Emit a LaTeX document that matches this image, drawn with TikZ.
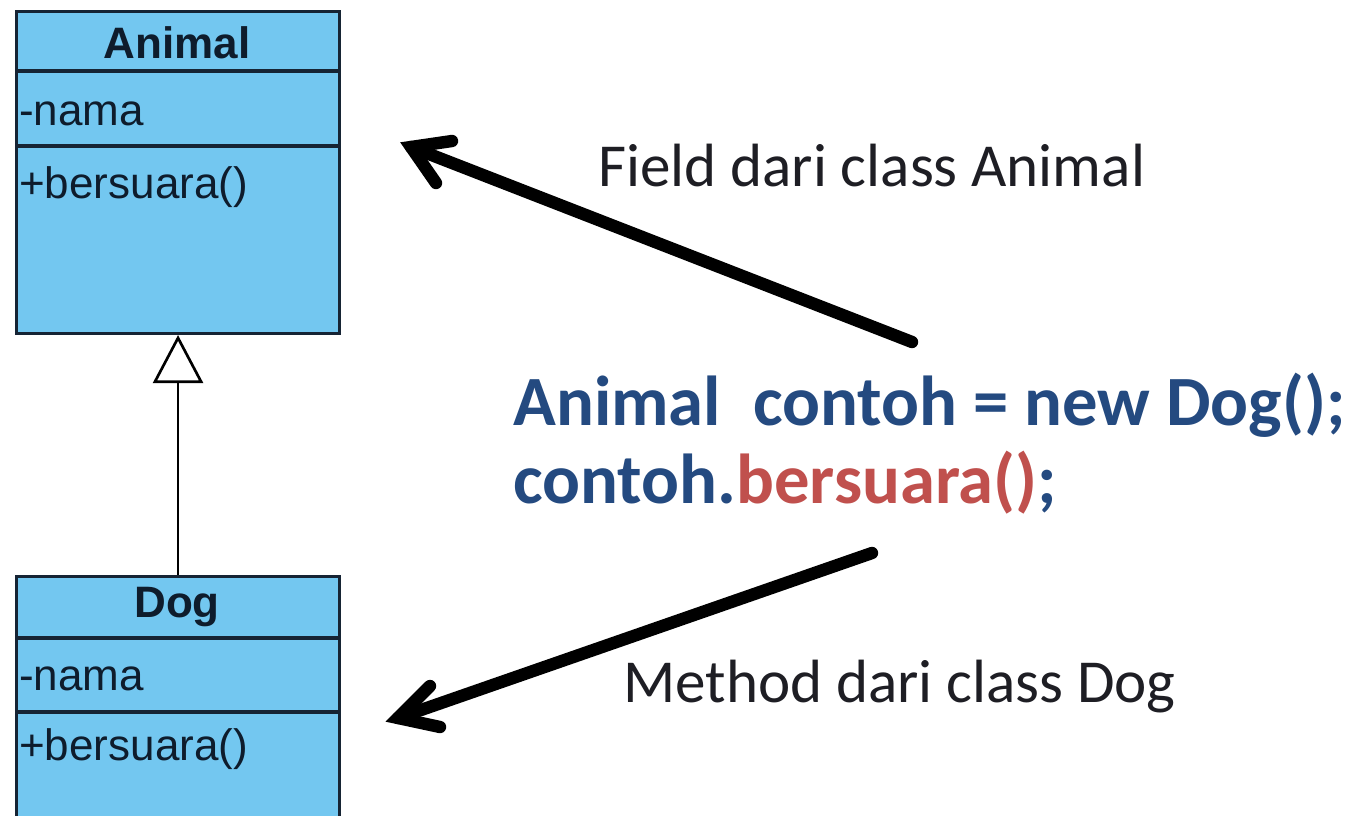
\documentclass[tikz,border=0pt]{standalone}
\usepackage{fontspec}
\setmainfont{Carlito}
\newfontfamily\umlfont{Liberation Sans}
\usetikzlibrary{arrows.meta}
\definecolor{boxfill}{RGB}{115,199,240}
\definecolor{boxline}{RGB}{22,36,52}
\definecolor{umltextc}{RGB}{14,28,44}
\definecolor{codeblue}{RGB}{36,74,128}
\definecolor{codered}{RGB}{192,80,77}
\definecolor{labeltext}{RGB}{30,30,36}
\begin{document}
\begin{tikzpicture}[x=0.75pt,y=-0.75pt,
  classbox/.style={draw=boxline, fill=boxfill, line width=2.3pt, inner sep=0pt},
  divider/.style={draw=boxline, line width=2.3pt},
  umltitle/.style={inner sep=0pt, text=umltextc, font=\umlfont\fontsize{33}{38}\selectfont\bfseries},
  umltext/.style={inner sep=0pt, anchor=base west, text=umltextc, font=\umlfont\fontsize{33}{38}\selectfont},
  labelstyle/.style={inner sep=0pt, anchor=base west, text=labeltext, font=\fontsize{45.8}{52}\selectfont},
  codestyle/.style={inner sep=0pt, anchor=base west, text=codeblue, font=\fontsize{53}{60}\selectfont\bfseries},
  bigline/.style={draw=black, line width=9.3pt, line cap=round, line join=miter},
  inherit/.style={draw=black, line width=2pt, -{Triangle[open, fill=white, length=36pt, width=37.5pt]}}
]
\useasboundingbox (0,0) rectangle (1350,815);
\fill[white] (0,0) rectangle (1350,815);

% Animal class
\node[classbox, minimum width=242.25pt, minimum height=241.5pt, anchor=north west] (animal) at (15,10) {};
\draw[divider] (15,71) -- (338,71);
\draw[divider] (15,146) -- (338,146);
\node[umltitle] (animalname) at (177,43) {Animal};
\node[umltext] (animalfield) at (19,125) {-nama};
\node[umltext] (animalmethod) at (19,198) {+bersuara()};

% Dog class
\node[classbox, minimum width=242.25pt, minimum height=198.75pt, anchor=north west] (dog) at (15,575) {};
\draw[divider] (15,638) -- (338,638);
\draw[divider] (15,712) -- (338,712);
\node[umltitle] (dogname) at (177,607) {Dog};
\node[umltext] (dogfield) at (19,690) {-nama};
\node[umltext] (dogmethod) at (19,760) {+bersuara()};

% generalization
\draw[inherit] (dog.north) -- (animal.south);

% labels
\node[labelstyle] (fieldlabel) at (598,186) {Field dari class Animal};
\node[labelstyle] (methodlabel) at (623,702) {Method dari class Dog};
\node[codestyle] (code1) at (513,425) {Animal\ \ contoh = new Dog();};
\node[codestyle] (code2) at (513,503) {contoh.\textcolor{codered}{bersuara()};};

% big arrows
\coordinate (fieldtail) at (912,342);
\coordinate (fieldtip) at (411,147);
\draw[bigline] (fieldtail) -- (fieldtip);
\draw[bigline] (452,141) -- (fieldtip) -- (436,183);

\coordinate (methodtail) at (872,553);
\coordinate (methodtip) at (398,718);
\draw[bigline] (methodtail) -- (methodtip);
\draw[bigline] (430,686) -- (methodtip) -- (440,727);
\end{tikzpicture}
\end{document}
